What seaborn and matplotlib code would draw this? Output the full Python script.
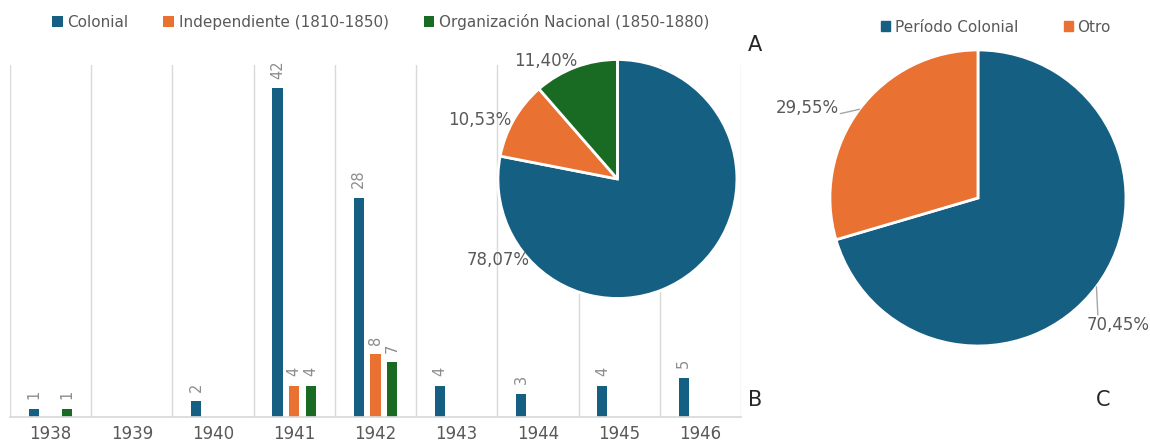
import numpy as np
import pandas as pd
import seaborn as sns
import matplotlib.pyplot as plt
from matplotlib.patches import Patch

# %% data
years = ["1938", "1939", "1940", "1941", "1942", "1943", "1944", "1945", "1946"]
periods = ["Colonial", "Independiente (1810-1850)", "Organización Nacional (1850-1880)"]
colonial = [1, 0, 2, 42, 28, 4, 3, 4, 5]
independiente = [0, 0, 0, 4, 8, 0, 0, 0, 0]
nacional = [1, 0, 0, 4, 7, 0, 0, 0, 0]

pie_a_labels = ["78,07%", "10,53%", "11,40%"]
pie_a_values = [78.07, 10.53, 11.40]

pie_c_names = ["Período Colonial", "Otro"]
pie_c_labels = ["70,45%", "29,55%"]
pie_c_values = [70.45, 29.55]

colors = ["#156082", "#E97132", "#196B24"]
grid_c = "#d9d9d9"
label_c = "#595959"

df = pd.DataFrame({
    "year": years * 3,
    "period": np.repeat(periods, len(years)),
    "count": colonial + independiente + nacional,
})

# %% figure
sns.set_theme(style="white")
plt.rcParams["font.family"] = ["DejaVu Sans"]
fig = plt.figure(figsize=(11.5, 4.45), dpi=100)

# bar chart (B)
ax = fig.add_axes([0.0087, 0.0629, 0.6356, 0.791])
sns.barplot(data=df, x="year", y="count", hue="period", hue_order=periods,
            palette=colors, width=0.62, gap=0.4, linewidth=0, ax=ax, saturation=1)
ax.set_xlim(-0.5, len(years) - 0.5)
ax.set_ylim(0, 45)
for x in np.arange(-0.5, len(years), 1.0):
    ax.axvline(x, color=grid_c, lw=1, zorder=0)
for c in ax.containers:
    labs = [str(int(v)) if v > 0 else "" for v in c.datavalues]
    ax.bar_label(c, labels=labs, rotation=90, padding=7, color="#8c8c8c", fontsize=10.5)
sns.despine(ax=ax, left=True)
ax.spines["bottom"].set_color(grid_c)
ax.set_yticks([])
ax.set_xlabel("")
ax.set_ylabel("")
ax.tick_params(axis="x", length=0, labelsize=12, labelcolor=label_c, pad=6)
sns.move_legend(ax, "center", bbox_to_anchor=(0.331, 0.951), bbox_transform=fig.transFigure,
                ncol=3, frameon=False, title=None, fontsize=11, handlelength=0.7,
                handleheight=0.7, handletextpad=0.3, columnspacing=2.3)
for t in ax.get_legend().get_texts():
    t.set_color(label_c)

# pie A
axa = fig.add_axes([0.4330, 0.3292, 0.2078, 0.5371])
axa.pie(pie_a_values, colors=colors, startangle=90, counterclock=False,
        wedgeprops=dict(edgecolor="white", linewidth=2))
axa.set_xlim(-1, 1)
axa.set_ylim(-1, 1)
a_pos = [(-1.0, -0.68), (-1.15, 0.49), (-0.6, 0.99)]
for lab, (x, y) in zip(pie_a_labels, a_pos):
    axa.text(x, y, lab, ha="center", va="center", fontsize=12, color=label_c)

# pie C
axc = fig.add_axes([0.7217, 0.2225, 0.2574, 0.6652])
wedges, _ = axc.pie(pie_c_values, colors=colors[:2], startangle=90, counterclock=False,
                    wedgeprops=dict(edgecolor="white", linewidth=2))
axc.set_xlim(-1, 1)
axc.set_ylim(-1, 1)
c_pos = [(0.95, -0.86), (-1.15, 0.61)]
c_text = [(0.81, -0.79), (-0.93, 0.57)]
for w, lab, (x, y), (lx, ly) in zip(wedges, pie_c_labels, c_pos, c_text):
    mid = np.deg2rad((w.theta1 + w.theta2) / 2)
    axc.annotate("", xy=(np.cos(mid), np.sin(mid)), xytext=(lx, ly),
                 arrowprops=dict(arrowstyle="-", color="#a6a6a6", lw=1,
                                 shrinkA=0, shrinkB=0))
    axc.text(x, y, lab, ha="center", va="center", fontsize=12, color=label_c)
handles = [Patch(color=c) for c in colors[:2]]
leg = fig.legend(handles, pie_c_names, loc="center", bbox_to_anchor=(0.866, 0.939),
                 ncol=2, frameon=False, fontsize=11, handlelength=0.6, handleheight=0.6,
                 handletextpad=0.3, columnspacing=3.0)
for t in leg.get_texts():
    t.set_color(label_c)

# panel letters
fig.text(0.6565, 0.899, "A", fontsize=15, ha="center", va="center")
fig.text(0.6565, 0.101, "B", fontsize=15, ha="center", va="center")
fig.text(0.959, 0.101, "C", fontsize=15, ha="center", va="center")

fig.savefig("out.png", dpi=100)
